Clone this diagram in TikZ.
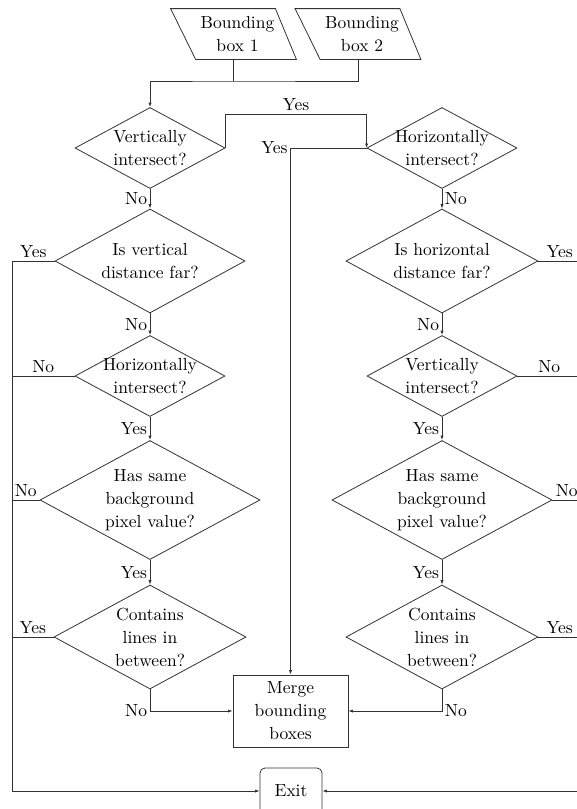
\documentclass[tikz,border=0pt]{standalone}
\usepackage{fontspec}
\setmainfont{lmroman10-regular.otf}
\usetikzlibrary{shapes.geometric,arrows.meta}
\begin{document}
\begin{tikzpicture}[x=1pt,y=-1pt,
  font=\fontsize{17.5}{23}\selectfont,
  line width=0.8pt, draw=black!80,
  arr/.style={-{Latex[length=4.5pt,width=3.2pt]}},
  dia/.style={diamond, draw, inner sep=0pt},
  dtext/.style={align=center, inner sep=0pt},
  paratext/.style={align=center, inner sep=0pt, minimum width=100pt, minimum height=50pt},
  lbl/.style={inner sep=2.5pt}
]
\useasboundingbox (0,0) rectangle (577,809);
\clip (0,0) rectangle (577,809);

% inputs (text boxes, parallelograms drawn round them)
\node[paratext] (bb1) at (237.5,34) {Bounding\\box 1};
\node[paratext] (bb2) at (362,34) {Bounding\\box 2};
\foreach \b in {bb1,bb2}
  \draw ([xshift=-16.5pt]\b.north west) -- ([xshift=-12.5pt]\b.north east)
     -- ([xshift=8.5pt]\b.south east) -- ([xshift=8.5pt]\b.south west) -- cycle;
\coordinate (bb1s) at ([xshift=-4pt]bb1.south);
\coordinate (bb2s) at ([xshift=-4pt]bb2.south);

% left column
\node[dia, minimum width=150pt, minimum height=81pt] (v1) at (150,148) {};
\node[dtext] (v1t) at (v1.center) {Vertically\\intersect?};
\node[dia, minimum width=190pt, minimum height=104pt] (d2) at (150,261) {};
\node[dtext] (d2t) at (d2.center) {Is vertical\\distance far?};
\node[dia, minimum width=150pt, minimum height=81pt] (h2) at (150,376) {};
\node[dtext] (h2t) at (h2.center) {Horizontally\\intersect?};
\node[dia, minimum width=220pt, minimum height=119pt] (b1) at (150,500) {};
\node[dtext] (b1t) at (b1.center) {Has same\\background\\pixel value?};
\node[dia, minimum width=192pt, minimum height=104pt] (c1) at (150,637) {};
\node[dtext] (c1t) at (c1.center) {Contains\\lines in\\between?};

% right column
\node[dia, minimum width=150pt, minimum height=81pt] (h1) at (442,148) {};
\node[dtext] (h1t) at (h1.center) {Horizontally\\intersect?};
\node[dia, minimum width=192pt, minimum height=104pt] (e2) at (442,261) {};
\node[dtext] (e2t) at (e2.center) {Is horizontal\\distance far?};
\node[dia, minimum width=150pt, minimum height=81pt] (v2) at (442,376) {};
\node[dtext] (v2t) at (v2.center) {Vertically\\intersect?};
\node[dia, minimum width=220pt, minimum height=119pt] (b2) at (442,500) {};
\node[dtext] (b2t) at (b2.center) {Has same\\background\\pixel value?};
\node[dia, minimum width=192pt, minimum height=104pt] (c2) at (442,637) {};
\node[dtext] (c2t) at (c2.center) {Contains\\lines in\\between?};

% merge and exit
\node[draw, minimum width=115pt, minimum height=72pt, inner sep=1pt, align=center] (merge) at (290.5,711) {Merge\\bounding\\boxes};
\node[draw, rounded corners=5pt, minimum width=62pt, minimum height=46pt] (exit) at (291,791) {Exit};

\coordinate (Lx) at (12,0);
\coordinate (Rx) at (581,0);
\coordinate (jn) at (233.5,81);
\coordinate (ty) at (0,114);

% top connectors
\draw (bb1s) -- (jn);
\draw[arr] (bb2s) |- (jn) -| (v1.north);
\draw[arr] (v1.east) -- (v1.east |- ty) -- node[lbl, above]{Yes} (h1.west |- ty) -- (h1.west);
\draw[arr] (h1.west) -| node[lbl, pos=0.5, left]{Yes} (merge.north);

% left column flow
\draw[arr] (v1.south) -- node[lbl, left]{No} (d2.north);
\draw[arr] (d2.south) -- node[lbl, left]{No} (h2.north);
\draw[arr] (h2.south) -- node[lbl, left]{Yes} (b1.north);
\draw[arr] (b1.south) -- node[lbl, left]{Yes} (c1.north);
\draw[arr] (c1.south) |- node[lbl, pos=0.5, left]{No} (merge.west);

% right column flow
\draw[arr] (h1.south) -- node[lbl, right]{No} (e2.north);
\draw[arr] (e2.south) -- node[lbl, left]{No} (v2.north);
\draw[arr] (v2.south) -- node[lbl, left]{Yes} (b2.north);
\draw[arr] (b2.south) -- node[lbl, left]{Yes} (c2.north);
\draw[arr] (c2.south) |- node[lbl, pos=0.5, right]{No} (merge.east);

% left exit bus
\draw[arr] (d2.west) -- node[lbl, above]{Yes} (d2.west -| Lx) |- (exit.west);
\draw (h2.west) -- node[lbl, above]{No} (h2.west -| Lx);
\draw (b1.west) -- node[lbl, above]{No} (b1.west -| Lx);
\draw (c1.west) -- node[lbl, above]{Yes} (c1.west -| Lx);

% right exit bus
\draw[arr] (e2.east) -- node[lbl, above]{Yes} (e2.east -| Rx) |- (exit.east);
\draw (v2.east) -- node[lbl, above]{No} (v2.east -| Rx);
\draw (b2.east) -- node[lbl, above]{No} (b2.east -| Rx);
\draw (c2.east) -- node[lbl, above]{Yes} (c2.east -| Rx);
\end{tikzpicture}
\end{document}
